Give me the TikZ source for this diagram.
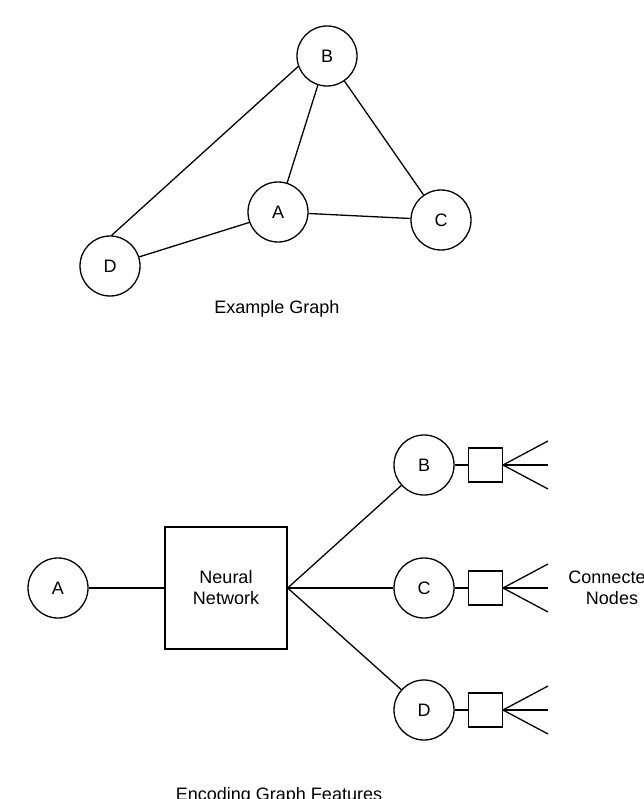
\documentclass[tikz,border=0pt]{standalone}
\usepackage{fontspec}
\setmainfont{Liberation Sans}
\usetikzlibrary{positioning}

\begin{document}
\begin{tikzpicture}[x=1pt, y=-1pt, line width=1.3pt,
    every node/.style={font=\fontsize{18}{21}\selectfont},
    vertex/.style={draw, circle, minimum size=60pt, inner sep=0pt},
    netbox/.style={draw, minimum size=122pt, inner sep=0pt, align=center},
    featbox/.style={draw, minimum size=34pt, inner sep=0pt}]
    \useasboundingbox (0,0) rectangle (644,799);
    \clip (0,0) rectangle (644,799);

    % Example graph
    \node[vertex] (a) at (278,212) {A};
    \node[vertex] (b) at (327,56) {B};
    \node[vertex] (c) at (441,220) {C};
    \node[vertex] (d) at (110,266) {D};
    \draw (d.87) -- (b.200);
    \draw (b) -- (a);
    \draw (b) -- (c);
    \draw (a) -- (c);
    \draw (a.200) -- (d);
    \node (graphlabel) at (277,309) {Example Graph};

    % Encoder
    \node[vertex] (inA) at (58,588) {A};
    \node[netbox] (nn) at (226,588) {Neural\\Network};
    \draw (inA) -- (nn);

    % Neighbours with their features
    \foreach \n/\lbl/\y in {b/B/465, c/C/588, d/D/710} {
        \node[vertex] (enc\n) at (424,\y) {\lbl};
        \node[featbox, right=13pt of enc\n] (sq\n) {};
        \draw (nn.east) -- (enc\n);
        \draw (enc\n) -- (sq\n);
        \foreach \k/\dy in {1/-24, 2/0, 3/24} {
            \coordinate (tip\n\k) at (548,\y+\dy);
            \draw (sq\n.east) -- (tip\n\k);
        }
    }
    \node[align=center] (connlabel) at (612,588) {Connected\\Nodes};

    \node[anchor=base] (enclabel) at (279,800) {Encoding Graph Features};
\end{tikzpicture}
\end{document}
